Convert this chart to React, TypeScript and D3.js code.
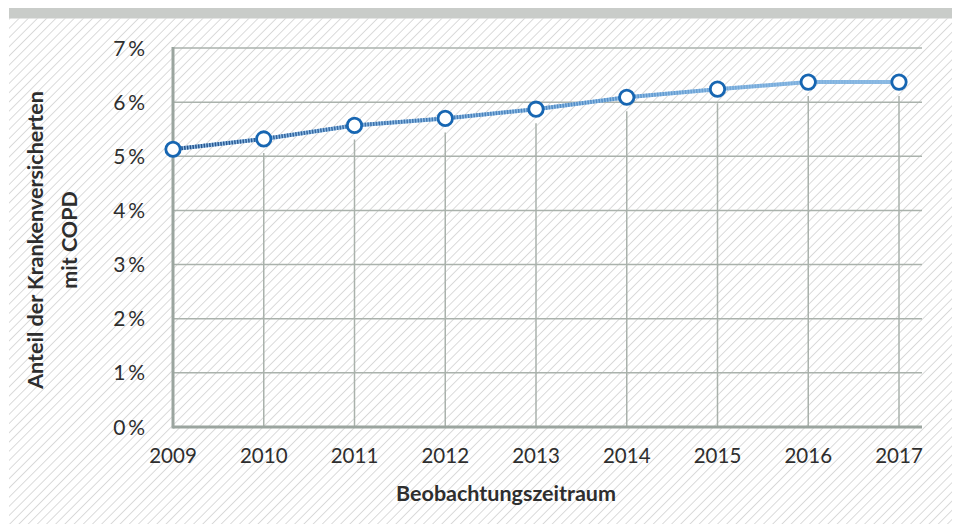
import React from "react";
import * as d3 from "d3";

const years = ["2009", "2010", "2011", "2012", "2013", "2014", "2015", "2016", "2017"];
const shares = [5.13, 5.32, 5.57, 5.7, 5.87, 6.09, 6.24, 6.37, 6.37];
const yTicks = [0, 1, 2, 3, 4, 5, 6, 7];
const xTitle = "Beobachtungszeitraum";
const yTitleLines = ["Anteil der Krankenversicherten", "mit COPD"];

const W = 960;
const H = 524;
const left = 173;
const lastX = 899;
const gridRight = 922;
const top = 48;
const bottom = 427;
const FONT = "Lato, 'Open Sans', sans-serif";
const TEXT = "#2e2e2e";
const AXIS = "#9ba59f";
const GRID = "#aab2ac";
const BLUE = "#1766b2";

export default function App() {
  const x = d3.scalePoint<string>().domain(years).range([left, lastX]);
  const y = d3.scaleLinear().domain([0, 7]).range([bottom, top]);
  const data = years.map((yr, i) => ({ yr, v: shares[i] }));
  const line = d3
    .line<{ yr: string; v: number }>()
    .x((d) => x(d.yr)!)
    .y((d) => y(d.v));
  const path = line(data) || "";

  return (
    <svg
      width={W}
      height={H}
      style={{ position: "absolute", left: 0, top: 0, display: "block" }}
    >
      <defs>
        <pattern
          id="hatch"
          patternUnits="userSpaceOnUse"
          width={6.5}
          height={6.5}
          patternTransform="rotate(45)"
        >
          <line x1={0} y1={0} x2={0} y2={6.5} stroke="#bdbdbd" strokeWidth={1.1} />
        </pattern>
        <linearGradient id="lineGrad" gradientUnits="userSpaceOnUse" x1={left} x2={lastX} y1={0} y2={0}>
          <stop offset="0" stopColor="#234f88" stopOpacity={1} />
          <stop offset="0.6" stopColor="#3a7bbd" stopOpacity={0.65} />
          <stop offset="1" stopColor="#5f9bd2" stopOpacity={0.1} />
        </linearGradient>
      </defs>
      <rect x={0} y={0} width={W} height={H} fill="#fff" />
      <rect x={9} y={8} width={943} height={10.5} fill="#c9ccc9" />
      <rect x={9} y={18.5} width={943} height={H - 18.5} fill="url(#hatch)" />

      {/* horizontal grid */}
      {yTicks.slice(1).map((t) => (
        <line key={t} x1={left} x2={gridRight} y1={y(t)} y2={y(t)} stroke={GRID} strokeWidth={1.5} />
      ))}

      {/* drop lines */}
      {data.slice(1).map((d) => (
        <line
          key={d.yr}
          x1={x(d.yr)}
          x2={x(d.yr)}
          y1={y(d.v) + 14}
          y2={bottom}
          stroke={GRID}
          strokeWidth={1.5}
        />
      ))}

      {/* axes */}
      <line x1={left} x2={gridRight} y1={bottom} y2={bottom} stroke={AXIS} strokeWidth={3} />
      <line x1={left} x2={left} y1={top - 1} y2={bottom + 1.5} stroke={AXIS} strokeWidth={3} />

      {/* y tick labels */}
      {yTicks.map((t) => (
        <text
          key={t}
          x={145}
          y={y(t)}
          dy="0.36em"
          textAnchor="end"
          fontFamily={FONT}
          fontSize={21}
          fill={TEXT}
        >
          {`${t}\u2009%`}
        </text>
      ))}

      {/* x tick labels */}
      {years.map((yr) => (
        <text
          key={yr}
          x={x(yr)}
          y={463}
          textAnchor="middle"
          fontFamily={FONT}
          fontSize={20.5}
          fill={TEXT}
        >
          {yr}
        </text>
      ))}

      {/* series line */}
      <path d={path} fill="none" stroke="#8dbbe4" strokeWidth={4} />
      <path d={path} fill="none" stroke="url(#lineGrad)" strokeWidth={4} strokeDasharray="1.5 1.3" />

      {/* markers */}
      {data.map((d) => (
        <circle key={d.yr} cx={x(d.yr)} cy={y(d.v)} r={7.2} fill="#fff" stroke={BLUE} strokeWidth={2.8} />
      ))}

      {/* axis titles */}
      <text
        x={506}
        y={501}
        textAnchor="middle"
        fontFamily={FONT}
        fontSize={21.5}
        fontWeight="bold"
        fill={TEXT}
      >
        {xTitle}
      </text>
      <g transform="translate(0,240) rotate(-90)">
        {yTitleLines.map((ln, i) => (
          <text
            key={i}
            x={0}
            y={43 + i * 34}
            textAnchor="middle"
            fontFamily={FONT}
            fontSize={21.5}
            fontWeight="bold"
            fill={TEXT}
          >
            {ln}
          </text>
        ))}
      </g>
    </svg>
  );
}
